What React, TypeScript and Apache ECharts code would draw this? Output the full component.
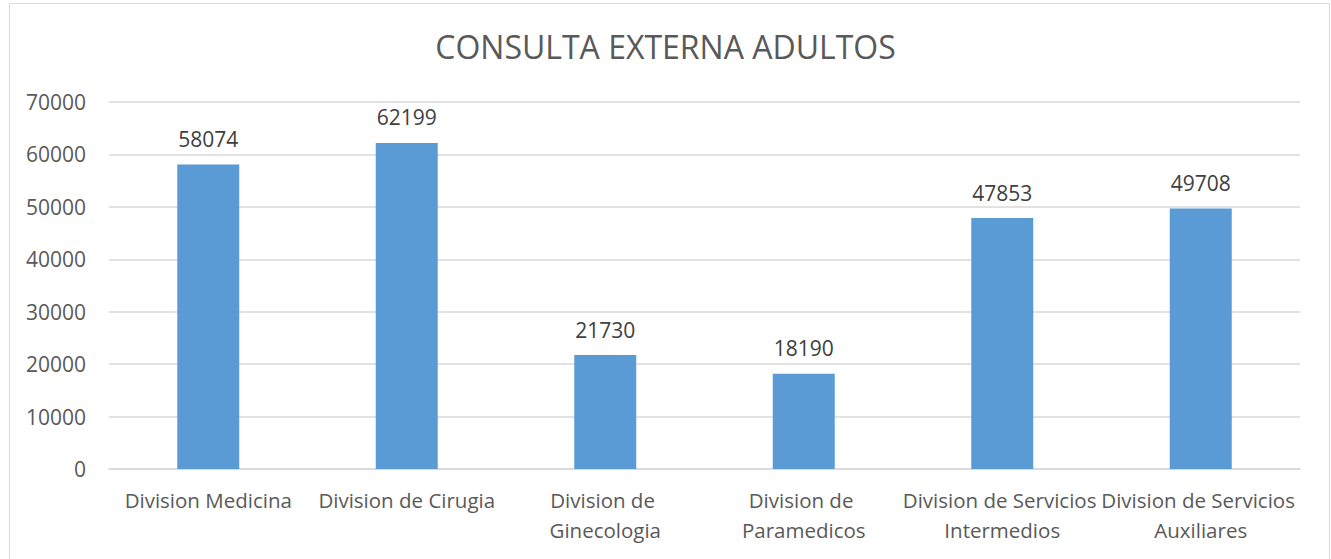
import React, { useEffect, useRef } from "react";
import * as echarts from "echarts";

const titleText = "CONSULTA EXTERNA ADULTOS";
const categories = [
  "Division Medicina",
  "Division de Cirugia",
  "Division de Ginecologia",
  "Division de Paramedicos",
  "Division de Servicios Intermedios",
  "Division de Servicios Auxiliares",
];
const values = [58074, 62199, 21730, 18190, 47853, 49708];
const yMin = 0;
const yMax = 70000;
const yInterval = 10000;

const FONT = "'Open Sans', 'Noto Sans', sans-serif";

export default function App() {
  const ref = useRef<HTMLDivElement>(null);
  useEffect(() => {
    document.body.style.margin = "0";
    const chart = echarts.init(ref.current!, undefined, { renderer: "svg" });
    chart.setOption({
      animation: false,
      backgroundColor: "#ffffff",
      title: {
        text: titleText,
        left: "center",
        top: 25,
        textStyle: {
          fontFamily: FONT,
          fontSize: 32,
          fontWeight: "normal",
          color: "#595959",
        },
      },
      graphic: [
        {
          type: "rect",
          shape: { x: 9.5, y: 3.5, width: 1320, height: 570 },
          style: { fill: "none", stroke: "#d9d9d9", lineWidth: 1 },
          silent: true,
        },
      ],
      grid: { left: 109, right: 31, top: 102, bottom: 90, containLabel: false },
      xAxis: {
        type: "category",
        data: categories,
        axisLine: { show: true, lineStyle: { color: "#d9d9d9", width: 1.5 } },
        axisTick: { show: false },
        axisLabel: {
          interval: 0,
          margin: 16,
          color: "#595959",
          fontFamily: FONT,
          fontSize: 20.5,
          lineHeight: 30,
          width: 206,
          overflow: "break",
        },
      },
      yAxis: {
        type: "value",
        min: yMin,
        max: yMax,
        interval: yInterval,
        axisLine: { show: false },
        axisTick: { show: false },
        splitLine: { lineStyle: { color: "#d9d9d9", width: 1.5 } },
        axisLabel: {
          margin: 23,
          color: "#595959",
          fontFamily: FONT,
          fontSize: 21,
          formatter: (v: number) => String(v),
        },
      },
      series: [
        {
          type: "bar",
          data: values,
          barWidth: 62,
          itemStyle: { color: "#5b9bd5" },
          label: {
            show: true,
            position: "top",
            distance: 15,
            color: "#404040",
            fontFamily: FONT,
            fontSize: 21,
          },
        },
      ],
    });
    return () => chart.dispose();
  }, []);
  return <div ref={ref} style={{ width: 1331, height: 559 }} />;
}
